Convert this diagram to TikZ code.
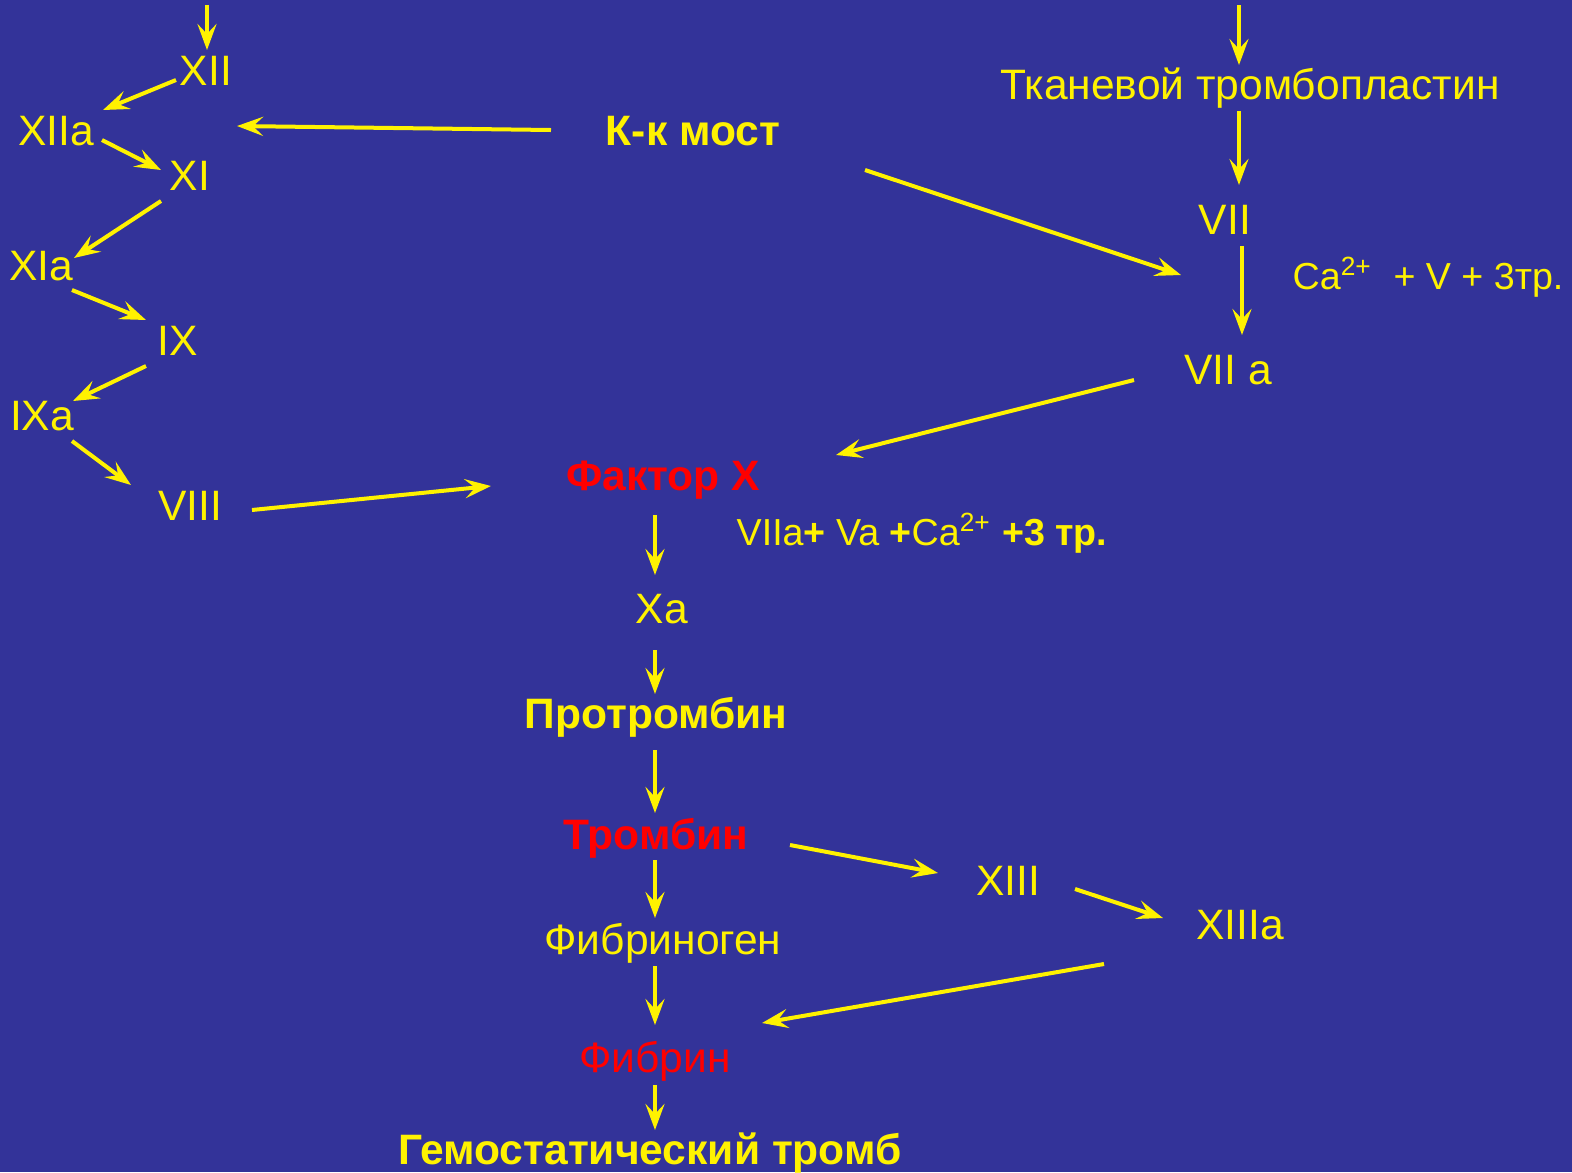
\documentclass[tikz,border=0pt]{standalone}
\usepackage{fontspec}
\setmainfont{Liberation Sans}
\usetikzlibrary{arrows.meta}
\definecolor{slidebg}{RGB}{51,51,153}

\begin{document}
\begin{tikzpicture}[x=0.01cm,y=-0.01cm,
    every node/.style={inner sep=0pt,anchor=base,text=yellow,font=\fontsize{12.1}{14}\selectfont},
    hot/.style={text=red},
    heavy/.style={font=\fontsize{12.1}{14}\selectfont\bfseries},
    cond/.style={anchor=base west,font=\fontsize{10.7}{13}\selectfont},
    arr/.style={draw=yellow,line width=0.04cm,-{Stealth[length=0.26cm,width=0.19cm,inset=0.1cm]}}]
\useasboundingbox (0,0) rectangle (1572,1172);
\fill [slidebg] (0,0) rectangle (1572,1172);
% intrinsic branch
\node (xii) at (206,85) {XII};
\node (xiia) at (56,145) {XIIa};
\node (xi) at (190,190) {XI};
\node (xia) at (41,280) {XIa};
\node (ix) at (178,355) {IX};
\node (ixa) at (42,430) {IXa};
\node (viii) at (190,520) {VIII};
\node [heavy] (kk) at (693,145) {К-к мост};
% extrinsic branch
\node (tf) at (1250,99) {Тканевой тромбопластин};
\node (vii) at (1225,234) {VII};
\node [cond] (cav) at (1292,289) {Ca\textsuperscript{2+}\ \ + V + 3тр.};
\node (viia) at (1228,384) {VII a};
% common path
\node [heavy,hot] (fx) at (663,490) {Фактор X};
\node [cond] (mix) at (736,545) {VIIa\textbf{+} Va \textbf{+}Ca\textsuperscript{2+} \textbf{+3 тр.}};
\node (xa) at (662,623) {Xa};
\node [heavy] (pro) at (656,728) {Протромбин};
\node [heavy,hot] (thr) at (656,849) {Тромбин};
\node (xiii) at (1008,895) {XIII};
\node (xiiia) at (1240,939) {XIIIa};
\node (fbg) at (663,954) {Фибриноген};
\node [hot] (fbn) at (655,1072) {Фибрин};
\node [heavy] (gt) at (650,1164) {Гемостатический тромб};
% free ends
\coordinate (in12) at (207,5);
\coordinate (intf) at (1239,5);
\coordinate (kkhit) at (237,126);
\coordinate (viihit) at (1181,275);
% arrows
\draw [arr] (in12) -- ([shift={(1,-35)}]xii.base);
\draw [arr] ([shift={(-30,-5)}]xii.base) -- ([shift={(47,-35)}]xiia.base);
\draw [arr] ([shift={(46,-5)}]xiia.base) -- ([shift={(-29,-20)}]xi.base);
\draw [arr] ([shift={(-29,11)}]xi.base) -- ([shift={(33,-22)}]xia.base);
\draw [arr] ([shift={(31,10)}]xia.base) -- ([shift={(-32,-35)}]ix.base);
\draw [arr] ([shift={(-32,11)}]ix.base) -- ([shift={(31,-29)}]ixa.base);
\draw [arr] ([shift={(30,11)}]ixa.base) -- ([shift={(-59,-35)}]viii.base);
\draw [arr] ([shift={(62,-10)}]viii.base) -- ([shift={(-172,-4)}]fx.base);
\draw [arr] ([shift={(-142,-15)}]kk.base) -- (kkhit);
\draw [arr] ([shift={(172,25)}]kk.base) -- (viihit);
\draw [arr] (intf) -- ([shift={(-11,-34)}]tf.base);
\draw [arr] ([shift={(-11,12)}]tf.base) -- ([shift={(14,-49)}]vii.base);
\draw [arr] ([shift={(17,12)}]vii.base) -- ([shift={(14,-49)}]viia.base);
\draw [arr] ([shift={(-94,-4)}]viia.base) -- ([shift={(173,-35)}]fx.base);
\draw [arr] ([shift={(-8,25)}]fx.base) -- ([shift={(-7,-48)}]xa.base);
\draw [arr] ([shift={(-7,27)}]xa.base) -- ([shift={(-1,-34)}]pro.base);
\draw [arr] ([shift={(-1,22)}]pro.base) -- ([shift={(-1,-36)}]thr.base);
\draw [arr] ([shift={(134,-4)}]thr.base) -- ([shift={(-70,-22)}]xiii.base);
\draw [arr] ([shift={(67,-6)}]xiii.base) -- ([shift={(-77,-21)}]xiiia.base);
\draw [arr] ([shift={(-1,11)}]thr.base) -- ([shift={(-8,-36)}]fbg.base);
\draw [arr] ([shift={(-8,12)}]fbg.base) -- ([shift={(0,-47)}]fbn.base);
\draw [arr] ([shift={(-136,25)}]xiiia.base) -- ([shift={(107,-49)}]fbn.base);
\draw [arr] ([shift={(0,13)}]fbn.base) -- ([shift={(5,-34)}]gt.base);
\end{tikzpicture}
\end{document}
